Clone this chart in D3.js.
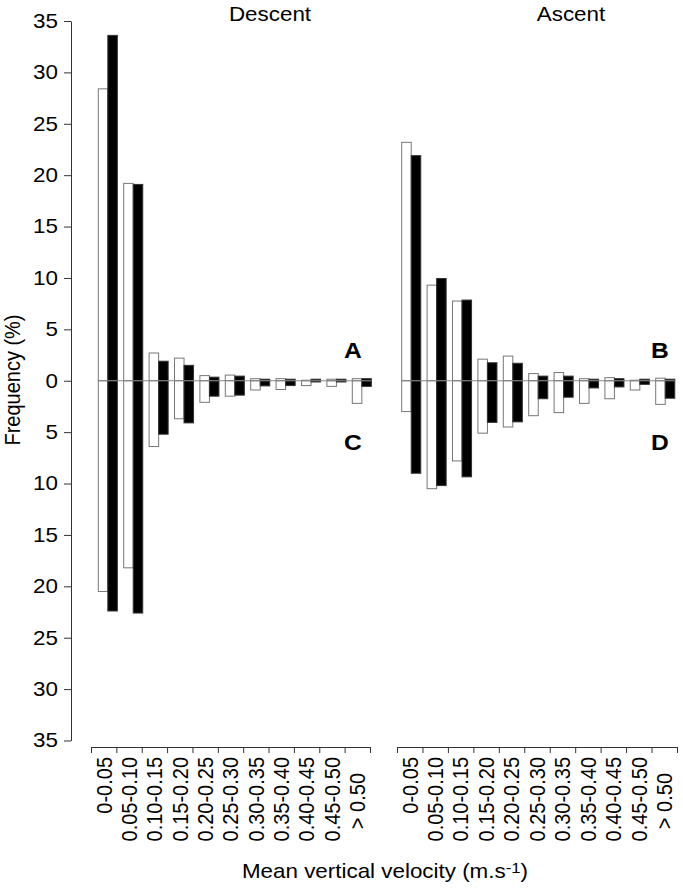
<!DOCTYPE html>
<html>
<head>
<meta charset="utf-8">
<script src="https://cdn.jsdelivr.net/npm/d3@7"></script>
<style>
  body { margin: 0; background: #fff; }
  text { font-family: "Liberation Sans", Arial, sans-serif; fill: #000; }
</style>
</head>
<body>
<div id="chart"></div>
<script>
// velocity classes (m/s)
var categories = ["0-0.05", "0.05-0.10", "0.10-0.15", "0.15-0.20", "0.20-0.25",
                  "0.25-0.30", "0.30-0.35", "0.35-0.40", "0.40-0.45", "0.45-0.50", "> 0.50"];

// Descent panel: A (upper half) and C (lower half)
var descentUpWhite   = [28.4, 19.2, 2.7, 2.2, 0.5, 0.55, 0.2, 0.2, 0.05, 0.15, 0.2];
var descentUpBlack   = [33.6, 19.1, 1.9, 1.5, 0.35, 0.45, 0.15, 0.15, 0.15, 0.15, 0.2];
var descentDownWhite = [20.5, 18.2, 6.4, 3.7, 2.1, 1.5, 0.9, 0.85, 0.47, 0.55, 2.2];
var descentDownBlack = [22.4, 22.6, 5.2, 4.1, 1.5, 1.4, 0.5, 0.47, 0.12, 0.12, 0.55];

// Ascent panel: B (upper half) and D (lower half)
var ascentUpWhite    = [23.2, 9.3, 7.75, 2.1, 2.4, 0.7, 0.8, 0.2, 0.3, 0.05, 0.25];
var ascentUpBlack    = [21.9, 9.95, 7.85, 1.75, 1.7, 0.45, 0.45, 0.15, 0.2, 0.15, 0.15];
var ascentDownWhite  = [3.0, 10.5, 7.8, 5.1, 4.5, 3.4, 3.1, 2.2, 1.75, 0.9, 2.3];
var ascentDownBlack  = [9.0, 10.2, 9.35, 4.05, 4.0, 1.75, 1.6, 0.7, 0.6, 0.35, 1.7];

var yTicks = d3.range(-35, 36, 5);

var width = 683, height = 888;
var sx = 1.12; // the original lettering is a little wide

var svg = d3.select("#chart").append("svg")
    .attr("width", width)
    .attr("height", height);

// one scale for both halves: negative = lower half
var y = d3.scaleLinear().domain([-35, 35]).range([740.5, 21]);

// y axis
var yAxis = svg.append("g")
    .attr("transform", "translate(71,0)")
    .call(d3.axisLeft(y)
      .tickValues(yTicks)
      .tickFormat(function(d) { return Math.abs(d); })
      .tickSize(7)
      .tickSizeOuter(0)
      .tickPadding(6));
yAxis.selectAll("path, line").attr("stroke", "#333");
yAxis.selectAll("text")
    .style("font-size", "20px")
    .attr("fill", "#000")
    .attr("x", 0)
    .attr("transform", "translate(-13,0) scale(" + sx + ",1)");

svg.append("text")
    .attr("transform", "translate(20,380) scale(" + sx + ",1) rotate(-90)")
    .attr("text-anchor", "middle")
    .style("font-size", "20px")
    .text("Frequency (%)");

var panels = [
  {title: "Descent", axisRange: [91, 370], barStart: 98.3, titleX: 270,
   up: [descentUpWhite, descentUpBlack], down: [descentDownWhite, descentDownBlack],
   upLetter: "A", downLetter: "C", letterX: 353},
  {title: "Ascent", axisRange: [397, 677], barStart: 401.7, titleX: 571,
   up: [ascentUpWhite, ascentUpBlack], down: [ascentDownWhite, ascentDownBlack],
   upLetter: "B", downLetter: "D", letterX: 660}
];

var step = 25.4;
var fills = ["#fff", "#000"];

function label(g, x, y0, size) {
  return g.append("text")
      .attr("transform", "translate(" + x + "," + y0 + ") scale(" + sx + ",1)")
      .attr("text-anchor", "middle")
      .style("font-size", size + "px");
}

panels.forEach(function(p) {
  var g = svg.append("g");

  // bar positions
  var xb = d3.scaleBand()
      .domain(categories)
      .range([p.barStart, p.barStart + step * (categories.length - 0.25)])
      .paddingInner(0.25)
      .paddingOuter(0);
  var xs = d3.scaleBand().domain([0, 1]).range([0, xb.bandwidth()]);

  [0, 1].forEach(function(s) {
    var up = categories.map(function(c, i) { return {c: c, v: p.up[s][i]}; });
    var down = categories.map(function(c, i) { return {c: c, v: -p.down[s][i]}; });

    g.selectAll(null).data(up).enter().append("rect")
        .attr("x", function(d) { return xb(d.c) + xs(s); })
        .attr("y", function(d) { return y(d.v); })
        .attr("width", xs.bandwidth())
        .attr("height", function(d) { return y(0) - y(d.v); })
        .attr("fill", fills[s])
        .attr("stroke", s === 0 ? "#777" : "#333")
        .attr("stroke-width", 1);

    g.selectAll(null).data(down).enter().append("rect")
        .attr("x", function(d) { return xb(d.c) + xs(s); })
        .attr("y", y(0))
        .attr("width", xs.bandwidth())
        .attr("height", function(d) { return y(d.v) - y(0); })
        .attr("fill", fills[s])
        .attr("stroke", s === 0 ? "#777" : "#333")
        .attr("stroke-width", 1);
  });

  // zero line
  g.append("line")
      .attr("x1", xb.range()[0])
      .attr("x2", xb.range()[1])
      .attr("y1", y(0))
      .attr("y2", y(0))
      .attr("stroke", "#888")
      .attr("stroke-width", 1.2);

  // x axis: ticks at class boundaries
  var xl = d3.scaleLinear().domain([0, categories.length]).range(p.axisRange);
  var xAxis = g.append("g")
      .attr("transform", "translate(0,747)")
      .call(d3.axisBottom(xl)
        .tickValues(d3.range(0, categories.length + 1))
        .tickFormat("")
        .tickSize(6)
        .tickSizeOuter(0));
  xAxis.selectAll("path, line").attr("stroke", "#333");

  // class labels, centred in each class
  var xc = d3.scaleBand().domain(categories).range(p.axisRange);
  g.selectAll(null).data(categories).enter().append("text")
      .attr("transform", function(d) {
        var off = d === "> 0.50" ? 16 : 0;
        return "translate(" + (xc(d) + xc.bandwidth() / 2) + "," + (757 + off) + ") scale(" + sx + ",1) rotate(-90)";
      })
      .attr("text-anchor", "end")
      .attr("dy", "0.35em")
      .style("font-size", "20px")
      .text(function(d) { return d; });

  label(g, p.titleX, 21, 20).text(p.title);
  label(g, p.letterX, 358, 22).style("font-weight", "bold").text(p.upLetter);
  label(g, p.letterX, 450, 22).style("font-weight", "bold").text(p.downLetter);
});

var xTitle = label(svg, 385, 878, 20);
xTitle.append("tspan").text("Mean vertical velocity (m.s");
xTitle.append("tspan").attr("dy", -5).style("font-size", "15px").text("-1");
xTitle.append("tspan").attr("dy", 5).text(")");
</script>
</body>
</html>
